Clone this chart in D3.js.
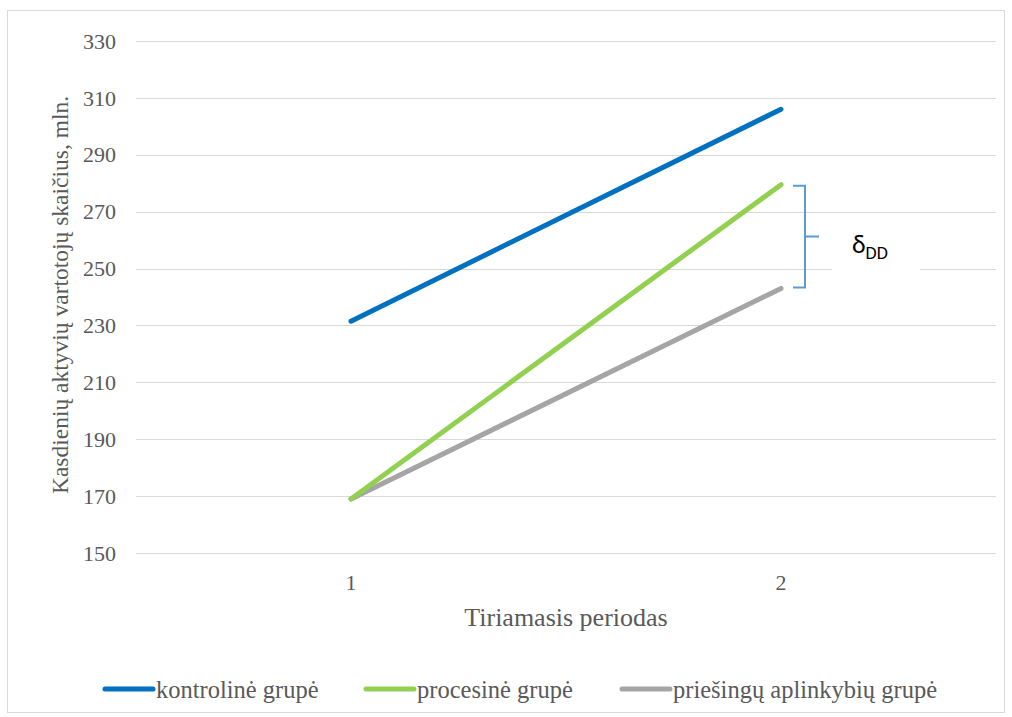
<!DOCTYPE html>
<html>
<head>
<meta charset="utf-8">
<script src="https://cdn.jsdelivr.net/npm/d3@7"></script>
<style>
  body { margin: 0; background: #fff; }
</style>
</head>
<body>
<div id="chart"></div>
<script>
const periods = ["1", "2"];
const seriesNames = ["kontrolinė grupė", "procesinė grupė", "priešingų aplinkybių grupė"];
const kontroline = [231.5, 306];
const procesine = [169, 279.5];
const priesingu = [169, 243];
const yTicks = [150, 170, 190, 210, 230, 250, 270, 290, 310, 330];
const colors = ["#0070C0", "#92D050", "#A5A5A5"];

const series = [
  { name: seriesNames[0], values: kontroline, color: colors[0] },
  { name: seriesNames[1], values: procesine, color: colors[1] },
  { name: seriesNames[2], values: priesingu, color: colors[2] }
];

const serif = "'Liberation Serif', 'Times New Roman', 'DejaVu Serif', serif";
const width = 1012, height = 717;
const plot = { left: 136, right: 996, top: 41, bottom: 553 };

const svg = d3.select("#chart").append("svg")
  .attr("width", width)
  .attr("height", height)
  .attr("font-family", serif);

svg.append("rect")
  .attr("x", 7.5).attr("y", 10.5)
  .attr("width", 997).attr("height", 702)
  .attr("fill", "#fff")
  .attr("stroke", "#d9d9d9");

const x = d3.scalePoint()
  .domain(periods)
  .range([plot.left, plot.right])
  .padding(0.5);

const y = d3.scaleLinear()
  .domain([150, 330])
  .range([plot.bottom, plot.top]);

// gridlines
svg.append("g")
  .selectAll("line")
  .data(yTicks)
  .enter().append("line")
  .attr("x1", plot.left)
  .attr("x2", plot.right)
  .attr("y1", d => Math.round(y(d)) + 0.5)
  .attr("y2", d => Math.round(y(d)) + 0.5)
  .attr("stroke", "#d9d9d9")
  .attr("stroke-width", 1);

// y tick labels
svg.append("g")
  .selectAll("text")
  .data(yTicks)
  .enter().append("text")
  .attr("x", 116)
  .attr("y", d => y(d))
  .attr("dy", "0.35em")
  .attr("text-anchor", "end")
  .attr("fill", "#595959")
  .style("font-family", serif)
  .style("font-size", "22px")
  .text(d => d);

// x tick labels
svg.append("g")
  .selectAll("text")
  .data(periods)
  .enter().append("text")
  .attr("x", d => x(d))
  .attr("y", 590)
  .attr("text-anchor", "middle")
  .attr("fill", "#595959")
  .style("font-family", serif)
  .style("font-size", "22px")
  .text(d => d);

// lines
const line = d3.line()
  .x((d, i) => x(periods[i]))
  .y(d => y(d));

svg.append("g")
  .selectAll("path")
  .data(series.slice().reverse())
  .enter().append("path")
  .attr("d", d => line(d.values))
  .attr("fill", "none")
  .attr("stroke", d => d.color)
  .attr("stroke-width", 5)
  .attr("stroke-linecap", "round");

// DD bracket annotation
const bx = x("2") + 12;
const yTop = y(procesine[1]), yBot = y(priesingu[1]);
const yMid = (yTop + yBot) / 2;
svg.append("rect")
  .attr("x", 832).attr("y", 215)
  .attr("width", 88).attr("height", 58)
  .attr("fill", "#fff");
svg.append("path")
  .attr("d", `M${bx},${yTop + 1} H${bx + 12} V${yBot - 1} H${bx} M${bx + 12},${yMid} H${bx + 26}`)
  .attr("fill", "none")
  .attr("stroke", "#5B9BD5")
  .attr("stroke-width", 2);
const dd = svg.append("text")
  .attr("x", 852)
  .attr("y", 253)
  .attr("fill", "#000")
  .style("font-family", "Carlito, 'Liberation Sans', 'Open Sans', sans-serif")
  .style("font-size", "26px");
dd.append("tspan").text("δ");
dd.append("tspan").attr("dy", 6).style("font-size", "18px").text("DD");

// axis titles
svg.append("text")
  .attr("transform", "rotate(-90)")
  .attr("x", -295)
  .attr("y", 68)
  .attr("text-anchor", "middle")
  .attr("fill", "#595959")
  .style("font-family", serif)
  .style("font-size", "23.5px")
  .text("Kasdienių aktyvių vartotojų skaičius, mln.");

svg.append("text")
  .attr("x", 566)
  .attr("y", 626)
  .attr("text-anchor", "middle")
  .attr("fill", "#595959")
  .style("font-family", serif)
  .style("font-size", "26px")
  .text("Tiriamasis periodas");

// legend
const legendX = [103, 364, 620];
const legend = svg.append("g")
  .selectAll("g")
  .data(series)
  .enter().append("g")
  .attr("transform", (d, i) => `translate(${legendX[i]},689)`);

legend.append("line")
  .attr("x1", 2).attr("x2", 50)
  .attr("y1", 0).attr("y2", 0)
  .attr("stroke", d => d.color)
  .attr("stroke-width", 5)
  .attr("stroke-linecap", "round");

legend.append("text")
  .attr("x", 53)
  .attr("y", 0)
  .attr("dy", "0.35em")
  .attr("fill", "#595959")
  .style("font-family", serif)
  .style("font-size", "24.5px")
  .text(d => d.name);
</script>
</body>
</html>
